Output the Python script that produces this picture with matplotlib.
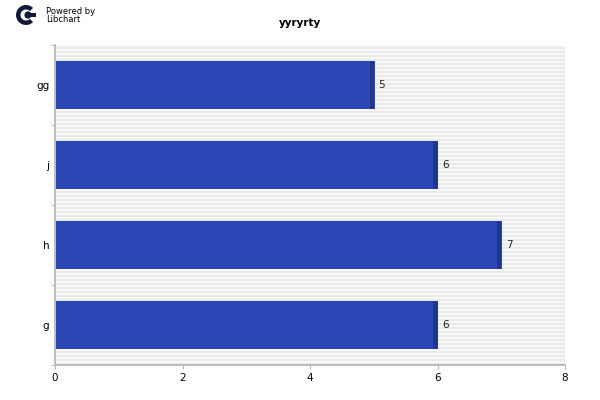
import matplotlib
matplotlib.use("Agg")
import matplotlib.pyplot as plt
from matplotlib.patches import Circle, Wedge, Rectangle

categories = ["g", "h", "j", "gg"]
values = [6, 7, 6, 5]
x_ticks = [0, 2, 4, 6, 8]
title = "yyryrty"

bar_color = "#2c47b5"
edge_color = "#21378f"
axis_color = "#b4b4b4"

fig = plt.figure(figsize=(6, 4), dpi=100)
ax = fig.add_axes([55 / 600, 1 - 365 / 400, 510 / 600, 320 / 400])

# striped background
n_stripes = 80
for i in range(n_stripes):
    ax.axhspan(-0.5 + i * 4 / n_stripes, -0.5 + (i + 0.5) * 4 / n_stripes,
               color="#e9e9e9", lw=0, zorder=0)
ax.set_facecolor("#f8f8f8")

ypos = list(range(len(categories)))
ax.barh(ypos, values, height=0.59, left=0.015, color=bar_color, zorder=2)
shade = 0.065
ax.barh(ypos, [shade] * len(values), height=0.59,
        left=[v - shade for v in values], color=edge_color, zorder=3)

for y, v in zip(ypos, values):
    ax.text(v + 0.07, y, str(v), va="center", ha="left", fontsize=7.5,
            color="#222222", zorder=4)

ax.set_xlim(0, 8)
ax.set_ylim(-0.5, len(categories) - 0.5)
ax.set_xticks(x_ticks)
ax.set_xticklabels([str(t) for t in x_ticks], fontsize=7.5)
ax.set_yticks(ypos)
ax.set_yticklabels(categories, fontsize=7.5)
ax.tick_params(axis="y", length=0, pad=4)
ax.tick_params(axis="x", length=3, color=axis_color, pad=3)
ax.set_yticks([i - 0.5 for i in range(len(categories) + 1)], minor=True)
ax.tick_params(axis="y", which="minor", length=3, color=axis_color)

for s in ["top", "right"]:
    ax.spines[s].set_visible(False)
for s in ["left", "bottom"]:
    ax.spines[s].set_color(axis_color)
    ax.spines[s].set_linewidth(1.2)

fig.text(0.5, 1 - 23 / 400, title, ha="center", va="center",
         fontsize=7.5, fontweight="bold")

# Libchart logo (thick C with a dot)
navy = "#0f1a3a"
W, H = 600.0, 400.0
cx, cy = 26.5, 15.0
# use an inset axes with equal aspect for a round logo
lax = fig.add_axes([16 / W, 1 - 26 / H, 22 / W, 22 / H])
lax.set_xlim(0, 22)
lax.set_ylim(0, 22)
lax.axis("off")
lax.add_patch(Wedge((10, 11), 10, 45, 315, width=4.5, color=navy, lw=0))
lax.add_patch(Circle((12, 11), 3.6, color=navy, lw=0))
lax.add_patch(Rectangle((12, 9.2), 7.5, 3.6, color=navy, lw=0))
fig.text(46 / W, 1 - 11 / H, "Powered by", fontsize=6, va="center",
         ha="left")
fig.text(46 / W, 1 - 20 / H, "Libchart", fontsize=6, va="center",
         ha="left")

fig.savefig("out.png", dpi=100)
